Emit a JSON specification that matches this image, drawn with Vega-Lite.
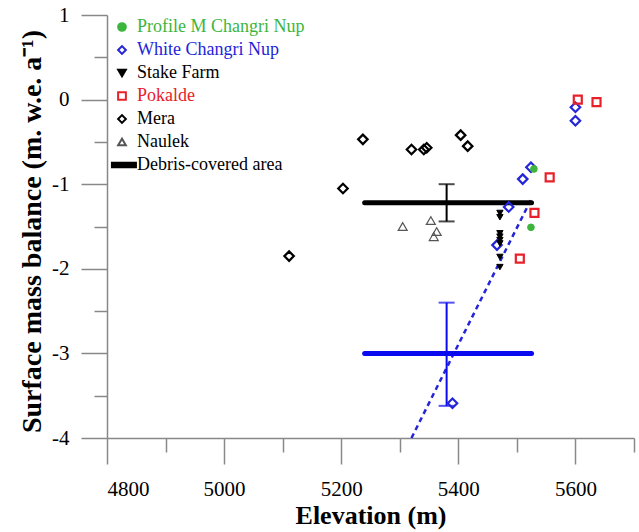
{
  "$schema": "https://vega.github.io/schema/vega-lite/v6.json",
  "width": 527,
  "height": 423,
  "autosize": "none",
  "padding": {"left": 107, "top": 15, "right": 5, "bottom": 94},
  "background": "white",
  "config": {
    "font": "Liberation Serif",
    "view": {"stroke": null},
    "axis": {"grid": false, "domainColor": "#888", "tickColor": "#888", "domainWidth": 1.5, "tickWidth": 1.5, "labelColor": "black", "titleColor": "black", "labelFont": "Liberation Serif", "titleFont": "Liberation Serif"},
    "legend": {"labelFont": "Liberation Serif", "labelFontSize": 18, "labelLimit": 400, "labelOffset": 6, "symbolSize": 60, "symbolStrokeWidth": 2, "rowPadding": 5, "padding": 0}
  },
  "layer": [
    {
      "data": {"values": [{"elev": 5320, "smb": -4}, {"elev": 5525, "smb": -1.17}]},
      "mark": {"type": "line", "color": "#2424d8", "strokeWidth": 2.5, "strokeDash": [5, 4]},
      "encoding": {
        "x": {"field": "elev", "type": "quantitative"},
        "y": {"field": "smb", "type": "quantitative"}
      }
    },
    {
      "data": {"values": [
        {"group": "all", "elev_lo": 5240, "elev_hi": 5525, "elev_mid": 5380, "smb": -1.22, "smb_lo": -1.44, "smb_hi": -1.0},
        {"group": "clean", "elev_lo": 5240, "elev_hi": 5525, "elev_mid": 5380, "smb": -3.0, "smb_lo": -3.62, "smb_hi": -2.4}
      ]},
      "layer": [
        {
          "mark": {"type": "rule", "strokeWidth": 5, "strokeCap": "round"},
          "encoding": {
            "x": {"field": "elev_lo", "type": "quantitative"},
            "x2": {"field": "elev_hi"},
            "y": {"field": "smb", "type": "quantitative"},
            "color": {"condition": {"test": "datum.group === 'clean'", "value": "#0a0af0"}, "value": "black"}
          }
        },
        {
          "mark": {"type": "rule", "strokeWidth": 2},
          "encoding": {
            "x": {"field": "elev_mid", "type": "quantitative"},
            "y": {"field": "smb_lo", "type": "quantitative"},
            "y2": {"field": "smb_hi"},
            "color": {"condition": {"test": "datum.group === 'clean'", "value": "#0a0af0"}, "value": "black"}
          }
        },
        {
          "mark": {"type": "tick", "orient": "horizontal", "size": 16, "thickness": 2},
          "encoding": {
            "x": {"field": "elev_mid", "type": "quantitative"},
            "y": {"field": "smb_lo", "type": "quantitative"},
            "color": {"condition": {"test": "datum.group === 'clean'", "value": "#0a0af0"}, "value": "black"}
          }
        },
        {
          "mark": {"type": "tick", "orient": "horizontal", "size": 16, "thickness": 2},
          "encoding": {
            "x": {"field": "elev_mid", "type": "quantitative"},
            "y": {"field": "smb_hi", "type": "quantitative"},
            "color": {"condition": {"test": "datum.group === 'clean'", "value": "#0a0af0"}, "value": "black"}
          }
        }
      ]
    },
    {
      "data": {"values": [
        {"series": "White Changri Nup", "elev": 5600, "smb": -0.09},
        {"series": "White Changri Nup", "elev": 5600, "smb": -0.25},
        {"series": "White Changri Nup", "elev": 5524, "smb": -0.80},
        {"series": "White Changri Nup", "elev": 5510, "smb": -0.94},
        {"series": "White Changri Nup", "elev": 5486, "smb": -1.27},
        {"series": "White Changri Nup", "elev": 5466, "smb": -1.72},
        {"series": "White Changri Nup", "elev": 5390, "smb": -3.59},
        {"series": "Stake Farm", "elev": 5471, "smb": -1.34},
        {"series": "Stake Farm", "elev": 5471, "smb": -1.39},
        {"series": "Stake Farm", "elev": 5471, "smb": -1.58},
        {"series": "Stake Farm", "elev": 5471, "smb": -1.62},
        {"series": "Stake Farm", "elev": 5471, "smb": -1.66},
        {"series": "Stake Farm", "elev": 5471, "smb": -1.70},
        {"series": "Stake Farm", "elev": 5471, "smb": -1.86},
        {"series": "Stake Farm", "elev": 5471, "smb": -1.98},
        {"series": "Pokalde", "elev": 5604, "smb": 0.0},
        {"series": "Pokalde", "elev": 5636, "smb": -0.03},
        {"series": "Pokalde", "elev": 5556, "smb": -0.92},
        {"series": "Pokalde", "elev": 5530, "smb": -1.34},
        {"series": "Pokalde", "elev": 5505, "smb": -1.88},
        {"series": "Mera", "elev": 5111, "smb": -1.85},
        {"series": "Mera", "elev": 5203, "smb": -1.05},
        {"series": "Mera", "elev": 5237, "smb": -0.47},
        {"series": "Mera", "elev": 5320, "smb": -0.59},
        {"series": "Mera", "elev": 5341, "smb": -0.59},
        {"series": "Mera", "elev": 5346, "smb": -0.57},
        {"series": "Mera", "elev": 5404, "smb": -0.42},
        {"series": "Mera", "elev": 5416, "smb": -0.55},
        {"series": "Naulek", "elev": 5305, "smb": -1.50},
        {"series": "Naulek", "elev": 5353, "smb": -1.43},
        {"series": "Naulek", "elev": 5363, "smb": -1.56},
        {"series": "Naulek", "elev": 5358, "smb": -1.62},
        {"series": "Profile M Changri Nup", "elev": 5529, "smb": -0.82},
        {"series": "Profile M Changri Nup", "elev": 5524, "smb": -1.51}
      ]},
      "mark": {"type": "point", "opacity": 1, "strokeWidth": 2.2},
      "encoding": {
        "x": {
          "field": "elev", "type": "quantitative",
          "scale": {"domain": [4800, 5700], "nice": false, "zero": false},
          "axis": {
            "title": "Elevation (m)",
            "values": [4800, 4900, 5000, 5100, 5200, 5300, 5400, 5500, 5600, 5700],
            "labelExpr": "datum.value % 200 === 0 ? '' + datum.value : ''",
            "labelFontSize": 21,
            "labelPadding": 14,
            "tickSize": {"condition": {"test": "datum.value % 200 === 0", "value": 26}, "value": 14},
            "titleFontSize": 26,
            "titleFontWeight": "bold",
            "titlePadding": 3
          }
        },
        "y": {
          "field": "smb", "type": "quantitative",
          "scale": {"domain": [-4, 1], "nice": false, "zero": false},
          "axis": {
            "title": "Surface mass balance (m. w.e. a⁻¹)",
            "values": [-4, -3.5, -3, -2.5, -2, -1.5, -1, -0.5, 0, 0.5, 1],
            "labelExpr": "datum.value % 1 === 0 ? '' + datum.value : ''",
            "labelFontSize": 21,
            "labelPadding": 12,
            "tickSize": {"condition": {"test": "datum.value % 1 === 0", "value": 26}, "value": 13},
            "titleFontSize": 28,
            "titleFontWeight": "bold",
            "titlePadding": 5,
            "titleY": 216
          }
        },
        "shape": {
          "field": "series", "type": "nominal",
          "scale": {
            "domain": ["Profile M Changri Nup", "White Changri Nup", "Stake Farm", "Pokalde", "Mera", "Naulek", "Debris-covered area"],
            "range": ["circle", "diamond", "triangle-down", "square", "diamond", "triangle-up", "M-2.6,-0.6H3.6V0.6H-2.6Z"]
          },
          "legend": {
            "title": null, "orient": "none", "legendX": 6, "legendY": 3,
            "labelColor": {"expr": "datum.value === 'Profile M Changri Nup' ? '#3db53d' : datum.value === 'White Changri Nup' ? '#2424d8' : datum.value === 'Pokalde' ? '#e8202a' : 'black'"}
          }
        },
        "fill": {
          "field": "series", "type": "nominal",
          "scale": {
            "domain": ["Profile M Changri Nup", "White Changri Nup", "Stake Farm", "Pokalde", "Mera", "Naulek", "Debris-covered area"],
            "range": ["#3db53d", "transparent", "black", "transparent", "transparent", "transparent", "black"]
          },
          "legend": {
            "title": null, "orient": "none", "legendX": 6, "legendY": 3,
            "labelColor": {"expr": "datum.value === 'Profile M Changri Nup' ? '#3db53d' : datum.value === 'White Changri Nup' ? '#2424d8' : datum.value === 'Pokalde' ? '#e8202a' : 'black'"}
          }
        },
        "stroke": {
          "field": "series", "type": "nominal",
          "scale": {
            "domain": ["Profile M Changri Nup", "White Changri Nup", "Stake Farm", "Pokalde", "Mera", "Naulek", "Debris-covered area"],
            "range": ["#3db53d", "#2424d8", "black", "#e8202a", "black", "#555555", "black"]
          },
          "legend": {
            "title": null, "orient": "none", "legendX": 6, "legendY": 3,
            "labelColor": {"expr": "datum.value === 'Profile M Changri Nup' ? '#3db53d' : datum.value === 'White Changri Nup' ? '#2424d8' : datum.value === 'Pokalde' ? '#e8202a' : 'black'"}
          }
        },
        "size": {
          "condition": [
            {"test": "datum.series === 'Profile M Changri Nup'", "value": 45},
            {"test": "datum.series === 'Stake Farm'", "value": 40},
            {"test": "datum.series === 'Pokalde'", "value": 64},
            {"test": "datum.series === 'Naulek'", "value": 80}
          ],
          "value": 90
        },
        "strokeWidth": {
          "condition": [
            {"test": "datum.series === 'Profile M Changri Nup' || datum.series === 'Stake Farm'", "value": 1},
            {"test": "datum.series === 'Naulek'", "value": 1.2}
          ],
          "value": 2.2
        }
      }
    }
  ]
}
